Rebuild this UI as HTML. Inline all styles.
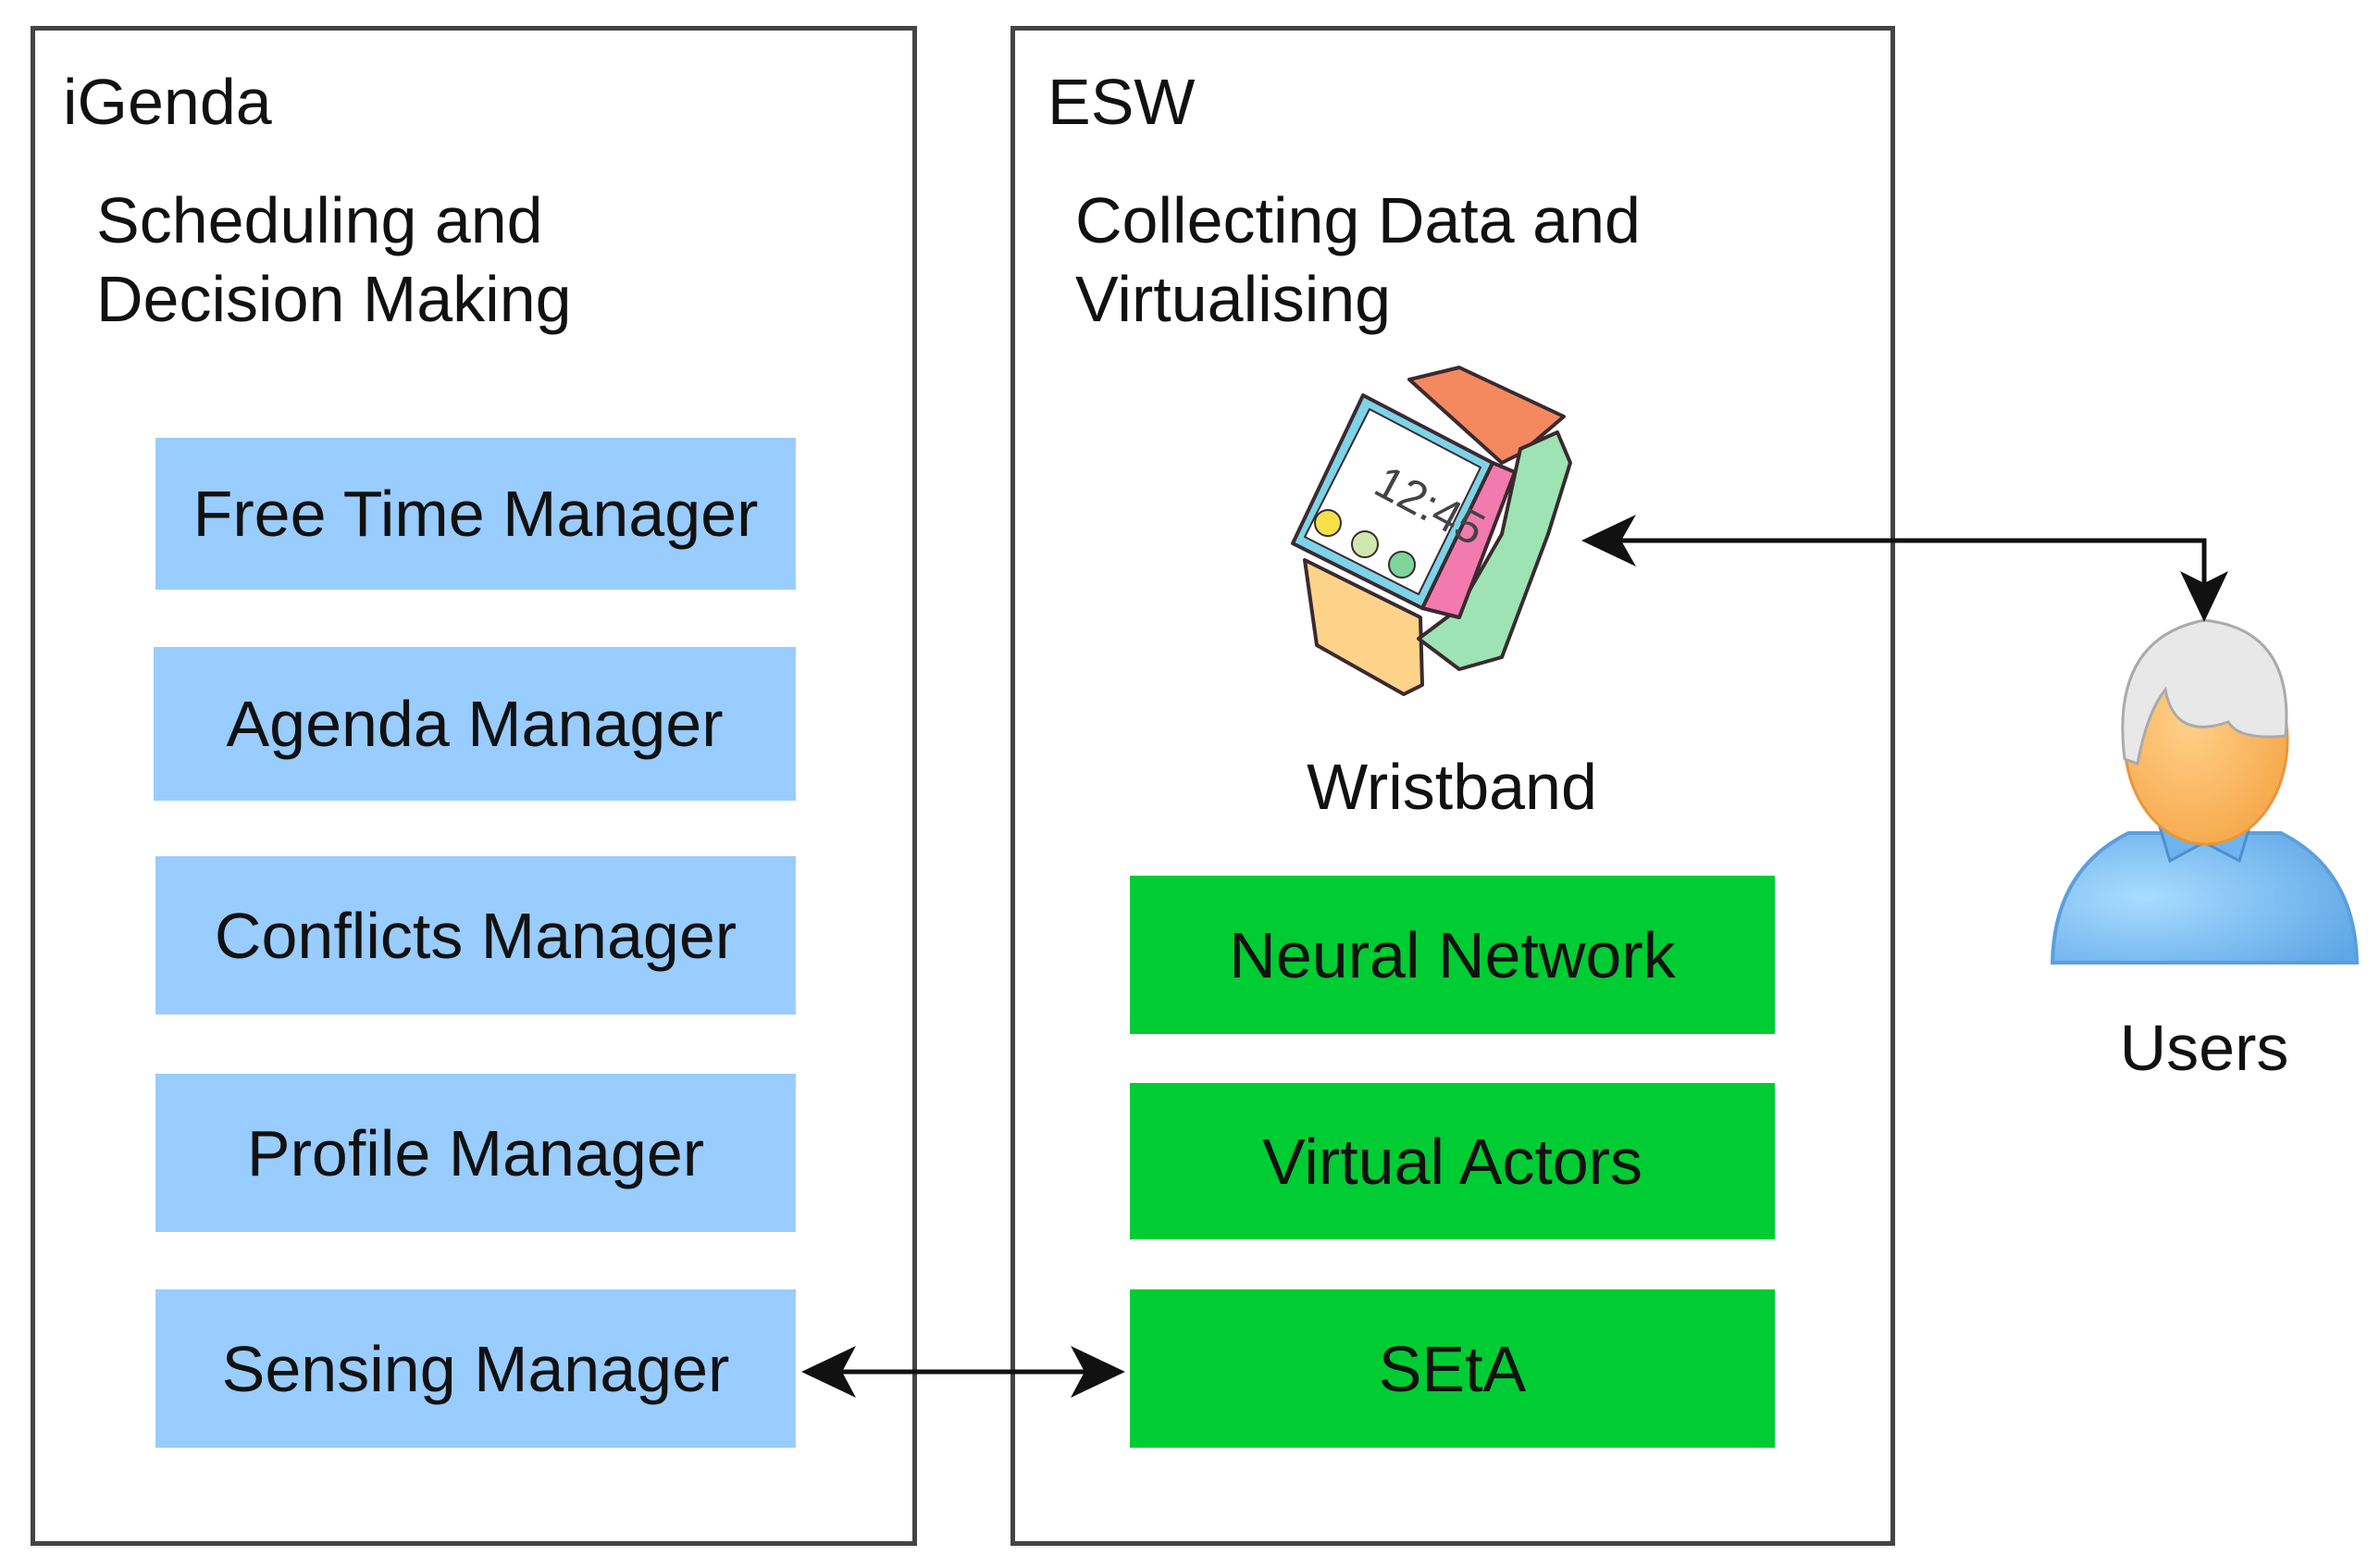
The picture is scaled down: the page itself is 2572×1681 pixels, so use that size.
<!DOCTYPE html>
<html><head><meta charset="utf-8"><style>
html,body{margin:0;padding:0;background:#fff;}
body{width:2572px;height:1681px;position:relative;overflow:hidden;font-family:"Liberation Sans",Arial,sans-serif;color:#111;}
.box{position:absolute;border:5px solid #444;box-sizing:border-box;}
.t{position:absolute;font-size:70px;line-height:85px;white-space:nowrap;}
.c{position:absolute;font-size:70px;line-height:85px;white-space:nowrap;text-align:center;width:600px;}
.b{position:absolute;background:#99ccff;display:flex;align-items:center;justify-content:center;font-size:70px;}
.g{position:absolute;background:#00cc33;display:flex;align-items:center;justify-content:center;font-size:70px;}
</style></head><body>
<div class="box" style="left:33px;top:28px;width:958px;height:1642px;"></div>
<div class="box" style="left:1092px;top:28px;width:956px;height:1642px;"></div>
<div class="t" style="left:68px;top:68px;">iGenda</div>
<div class="t" style="left:104px;top:196px;">Scheduling and<br>Decision Making</div>
<div class="t" style="left:1132px;top:68px;">ESW</div>
<div class="t" style="left:1162px;top:196px;">Collecting Data and<br>Virtualising</div>

<div class="b" style="left:168px;top:473px;width:692px;height:164px;">Free Time Manager</div>
<div class="b" style="left:166px;top:699px;width:694px;height:166px;">Agenda Manager</div>
<div class="b" style="left:168px;top:925px;width:692px;height:171px;">Conflicts Manager</div>
<div class="b" style="left:168px;top:1160px;width:692px;height:171px;">Profile Manager</div>
<div class="b" style="left:168px;top:1393px;width:692px;height:171px;">Sensing Manager</div>

<div class="g" style="left:1221px;top:946px;width:697px;height:171px;">Neural Network</div>
<div class="g" style="left:1221px;top:1170px;width:697px;height:169px;">Virtual Actors</div>
<div class="g" style="left:1221px;top:1393px;width:697px;height:171px;">SEtA</div>

<div class="c" style="left:1269px;top:808px;">Wristband</div>
<div class="c" style="left:2082px;top:1090px;">Users</div>

<svg width="2572" height="1681" style="position:absolute;left:0;top:0;">
<g transform="translate(1390,390)" stroke="#3a2a30" stroke-width="4" stroke-linejoin="round">
<polygon points="133,20 187,7 300,60 253,100 233,110" fill="#f4895f"/>
<polygon points="20,215 145,277 147,350 127,360 33,307" fill="#fdd38a"/>
<polygon points="253,95 293,77 307,110 283,187 233,320 187,333 143,300 187,267 233,187" fill="#9ee3b3"/>
<polygon points="223,110 247,120 187,277 147,267" fill="#f27aaf"/>
<polygon points="83,37 223,110 147,267 7,197" fill="#7dd3e8"/>
<polygon points="90,52 210,115 143,252 20,190" fill="#fff" stroke-width="2"/>
<text x="95" y="150" font-size="50" fill="#444" stroke="none" font-family="Liberation Sans" transform="rotate(28 110 140)">12:45</text>
<circle cx="45" cy="175" r="14" fill="#f5e04a" stroke-width="2"/>
<circle cx="85" cy="198" r="14" fill="#cfe8b0" stroke-width="2"/>
<circle cx="125" cy="220" r="14" fill="#7fd49a" stroke-width="2"/>
</g>
<defs>
<radialGradient id="face" cx="0.4" cy="0.4" r="0.7"><stop offset="0" stop-color="#ffd08a"/><stop offset="1" stop-color="#f5a646"/></radialGradient>
<radialGradient id="body" cx="0.3" cy="0.5" r="0.8"><stop offset="0" stop-color="#a8dcff"/><stop offset="1" stop-color="#5ea6e6"/></radialGradient>
</defs>
<path d="M2218,1040 Q2220,940 2300,900 L2465,900 Q2545,940 2547,1040 Z" fill="url(#body)" stroke="#5b9fdc" stroke-width="4"/>
<path d="M2330,880 L2345,930 L2382,910 L2420,930 L2435,880 Z" fill="#6fb3ee" stroke="#4d8fcf" stroke-width="3"/>
<ellipse cx="2384" cy="800" rx="88" ry="112" fill="url(#face)" stroke="#e9963a" stroke-width="3"/>
<path d="M2296,820 Q2280,690 2382,670 Q2480,680 2470,795 Q2420,800 2408,780 Q2350,800 2340,745 Q2320,770 2310,825 Z" fill="#e8e8e8" stroke="#aaa" stroke-width="3"/>
<g stroke="#111" stroke-width="5" fill="none">
<polyline points="1740,584 2382,584 2382,640"/>
<line x1="900" y1="1482" x2="1185" y2="1482"/>
</g>
<g fill="#111">
<polygon points="1709,584 1768,556 1752,584 1768,612"/>
<polygon points="2382,672 2356,617 2382,630 2408,617"/>
<polygon points="866,1482 925,1454 910,1482 925,1510"/>
<polygon points="1216,1482 1157,1454 1172,1482 1157,1510"/>
</g>
</svg>
</body></html>
